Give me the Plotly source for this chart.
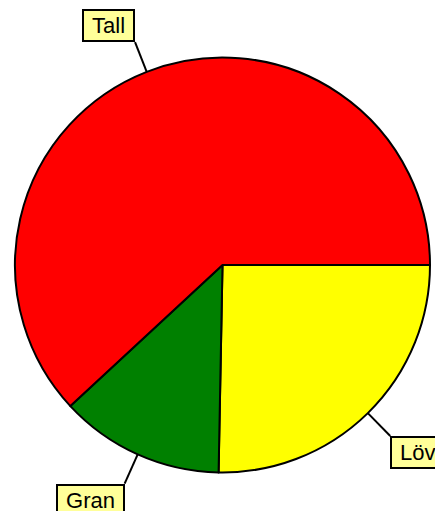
import math
import plotly.graph_objects as go

labels = ["Löv", "Gran", "Tall"]
values = [25.3, 12.8, 61.9]
colors = ["#ffff00", "#008000", "#ff0000"]

OFF = 8  # default page body margin
W, H = 443, 511
cx, cy, R = 222.5 - OFF, 265.0 - OFF, 207.5  # pixel center/radius in figure
ext = 32  # leader line length in px

dom_x = [(cx - R) / W, (cx + R) / W]
dom_y = [(H - cy - R) / H, (H - cy + R) / H]

fig = go.Figure(go.Pie(
    labels=labels, values=values, sort=False, direction="clockwise",
    rotation=90, textinfo="none", hoverinfo="label+percent",
    marker=dict(colors=colors, line=dict(color="black", width=2)),
    domain=dict(x=dom_x, y=dom_y), showlegend=False,
))

def px2paper(x, y):
    return x / W, (H - y) / H

total = sum(values)
start = 0.0
shapes, annots = [], []
for lab, v in zip(labels, values):
    ang = start + v / total * 360.0 / 2
    start += v / total * 360.0
    a = math.radians(ang)
    ex, ey = cx + R * math.cos(a), cy + R * math.sin(a)
    lx, ly = cx + (R + ext) * math.cos(a), cy + (R + ext) * math.sin(a)
    x0, y0 = px2paper(ex, ey)
    x1, y1 = px2paper(lx, ly)
    shapes.append(dict(type="line", xref="paper", yref="paper", x0=x0, y0=y0,
                       x1=x1, y1=y1, line=dict(color="black", width=2)))
    annots.append(dict(
        x=x1, y=y1, xref="paper", yref="paper", text="\u00a0" + lab + "\u00a0",
        showarrow=False,
        xanchor="right" if math.cos(a) < 0 else "left",
        yanchor="bottom" if math.sin(a) < 0 else "top",
        bgcolor="#ffff99", bordercolor="black", borderwidth=2, borderpad=2,
        font=dict(family="Liberation Sans, Arial", size=22, color="black"),
    ))

fig.update_layout(
    width=W, height=H, margin=dict(l=0, r=0, t=0, b=0),
    paper_bgcolor="white", plot_bgcolor="white",
    shapes=shapes, annotations=annots,
)
fig.write_html("out.html")
